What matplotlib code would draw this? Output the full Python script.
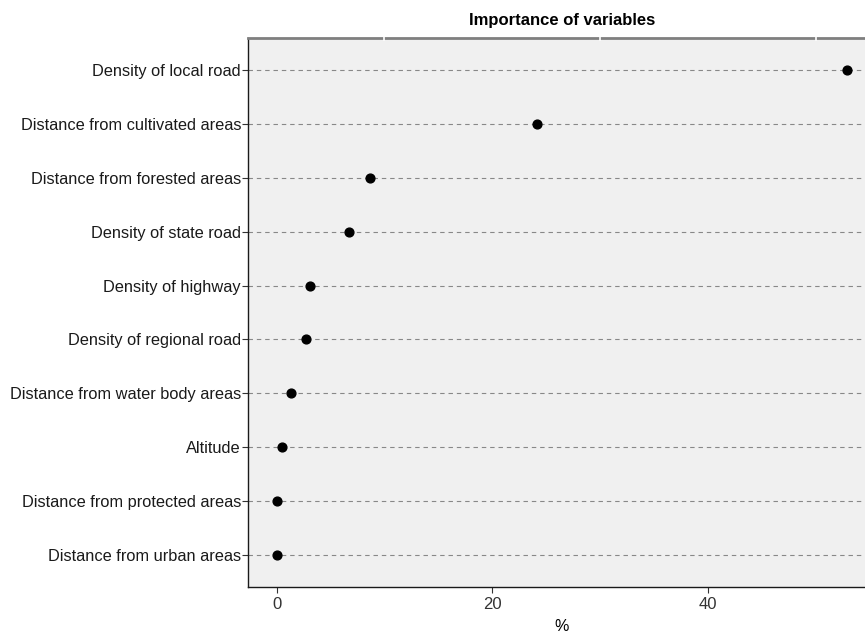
import matplotlib
matplotlib.use("Agg")
import matplotlib.pyplot as plt
import numpy as np

plt.rcParams['font.family'] = ['Liberation Sans', 'DejaVu Sans']

variables = [
    "Density of local road",
    "Distance from cultivated areas",
    "Distance from forested areas",
    "Density of state road",
    "Density of highway",
    "Density of regional road",
    "Distance from water body areas",
    "Altitude",
    "Distance from protected areas",
    "Distance from urban areas",
]
importance = [52.9, 24.1, 8.7, 6.7, 3.1, 2.7, 1.3, 0.5, 0.05, 0.0]
xticks = [0, 20, 40]

fig = plt.figure(figsize=(8.65, 6.33), dpi=100)
ax = fig.add_axes([248/865, 46/633, 628/865, 549/633])
ax.set_facecolor('#f0f0f0')

n = len(variables)
ypos = np.arange(n)[::-1] + 1
for y in ypos:
    ax.axhline(y, color='#888888', lw=0.8, ls=(0, (4, 3.5)), zorder=1)
ax.scatter(importance, ypos, s=40, color='black', zorder=3)

rng = max(importance) - min(importance)
ax.set_xlim(min(importance) - 0.05*rng, max(importance) + 0.05*rng)
ax.set_ylim(0.4, n + 0.6)
ax.set_yticks(ypos)
ax.set_yticklabels(variables, fontsize=11.8, color='#1a1a1a')
ax.set_xticks(xticks)
ax.set_xticklabels([str(t) for t in xticks], fontsize=12, color='#333333')
ax.tick_params(axis='y', length=4, width=0.8, color='#333333', pad=1)
ax.tick_params(axis='x', length=4, width=0.8, color='#333333', pad=3)
ax.set_xlabel('%', fontsize=11.5, labelpad=5)
ax.set_title('Importance of variables', fontsize=12, fontweight='bold', pad=9)

for s in ['left', 'bottom']:
    ax.spines[s].set_color('#1a1a1a')
    ax.spines[s].set_linewidth(1.0)
ax.spines['right'].set_visible(False)
ax.spines['top'].set_color('#7f7f7f')
ax.spines['top'].set_linewidth(2.0)

# white minor-grid gaps on the top border
for xm in [10, 30, 50]:
    ax.plot([xm, xm], [n + 0.56, n + 0.64], color='white', lw=1.2,
            clip_on=False, zorder=5)

fig.savefig('out.png', dpi=100)
